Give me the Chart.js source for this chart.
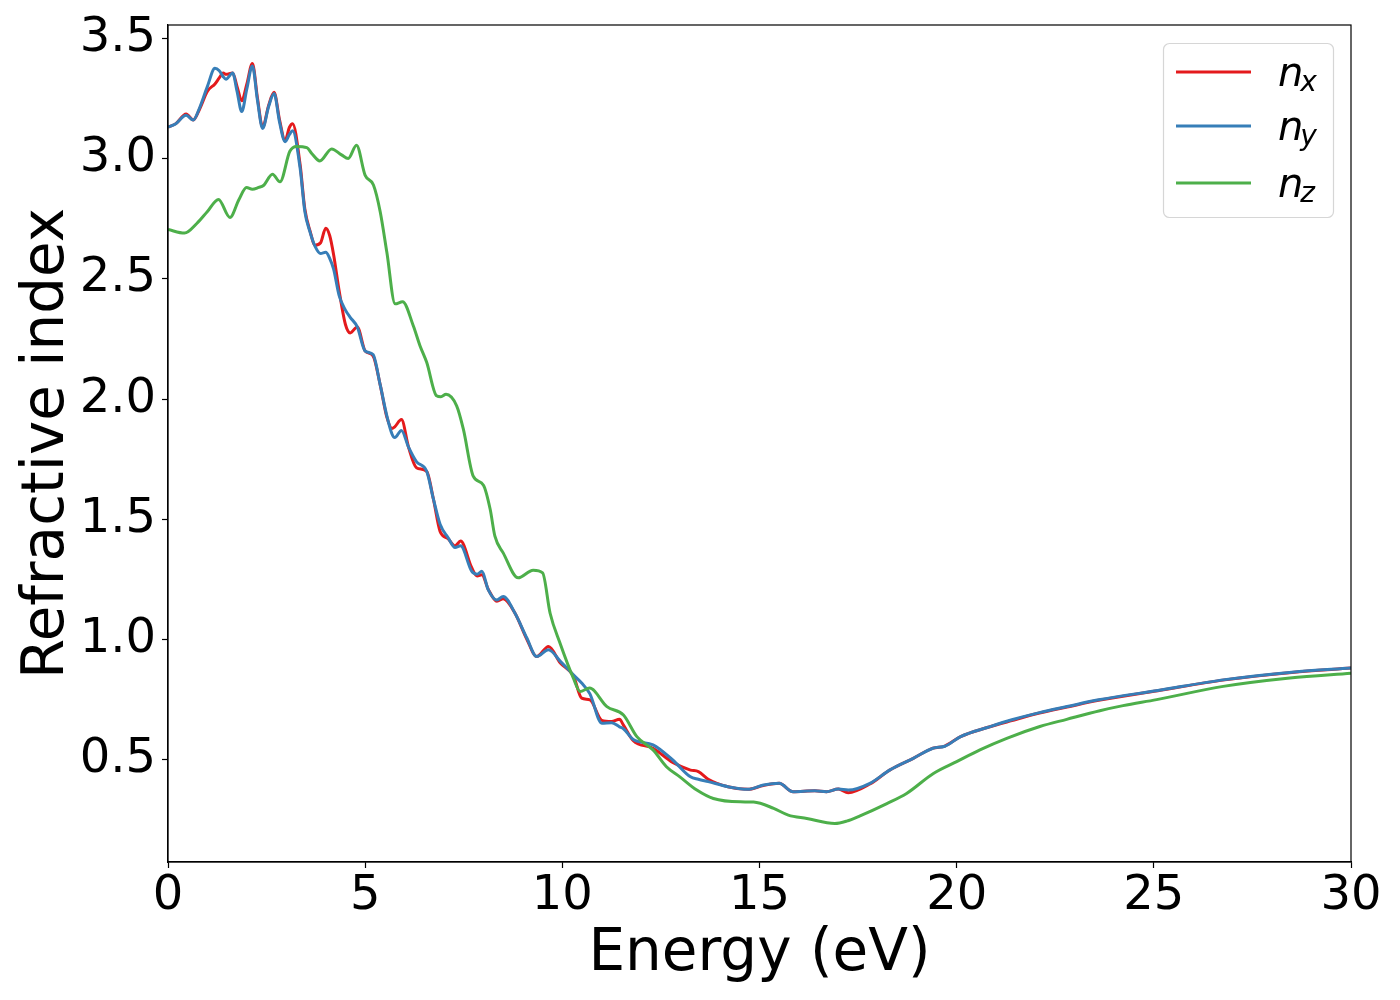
<!DOCTYPE html>
<html>
<head>
<meta charset="utf-8">
<title>Refractive index</title>
<script src="https://cdn.jsdelivr.net/npm/chart.js@4/dist/chart.umd.min.js"></script>
<style>
	html, body { margin: 0; padding: 0; background: #fff; }
	#wrap { width: 1400px; height: 1000px; }
</style>
</head>
<body>
<div id="wrap"><canvas id="myChart" width="1400" height="1000"></canvas></div>
<script>
'use strict';

// energies (eV) shared by n_x and n_y
var energyXY = [0, 0.2, 0.46, 0.64, 0.8, 1.0, 1.19, 1.3, 1.4, 1.47, 1.64, 1.75, 1.87, 2.0, 2.14, 2.27, 2.4, 2.55, 2.69, 2.83,
	2.97, 3.08, 3.16, 3.35, 3.47, 3.6, 3.73, 3.87, 4.0, 4.1, 4.2, 4.34, 4.5, 4.62, 4.8, 5.0, 5.2, 5.38, 5.55, 5.68,
	5.75, 5.92, 6.1, 6.3, 6.56, 6.73, 6.9, 7.1, 7.28, 7.42, 7.7, 7.84, 7.96, 8.12, 8.34, 8.5, 8.8, 9.1, 9.35, 9.65,
	9.95, 10.28, 10.49, 10.7, 11.0, 11.25, 11.45, 11.55, 11.8, 12.3, 12.8, 13.25, 13.45, 13.7, 14.2, 14.7, 15.1, 15.5, 15.85, 16.4,
	16.7, 17.0, 17.25, 17.8, 18.3, 18.9, 19.4, 19.7, 20.1, 20.8, 21.4, 22.1, 22.8, 23.6, 25.1, 26.8, 28.5, 30];

var nx = [3.130, 3.145, 3.185, 3.160, 3.205, 3.280, 3.310, 3.335, 3.355, 3.350, 3.355, 3.300, 3.240, 3.310, 3.395, 3.250, 3.130, 3.220, 3.275, 3.160,
	3.075, 3.130, 3.145, 2.975, 2.790, 2.700, 2.640, 2.650, 2.710, 2.680, 2.600, 2.450, 2.310, 2.275, 2.300, 2.200, 2.180, 2.060, 1.925, 1.878,
	1.885, 1.915, 1.800, 1.715, 1.700, 1.585, 1.450, 1.420, 1.390, 1.410, 1.300, 1.265, 1.270, 1.210, 1.160, 1.170, 1.110, 1.002, 0.930, 0.972,
	0.903, 0.850, 0.757, 0.750, 0.665, 0.660, 0.669, 0.645, 0.580, 0.549, 0.490, 0.458, 0.452, 0.420, 0.389, 0.378, 0.394, 0.403, 0.368, 0.372,
	0.368, 0.379, 0.364, 0.400, 0.458, 0.507, 0.549, 0.558, 0.597, 0.636, 0.664, 0.695, 0.720, 0.748, 0.788, 0.833, 0.864, 0.882];

var ny = [3.130, 3.145, 3.180, 3.160, 3.210, 3.300, 3.375, 3.365, 3.340, 3.330, 3.355, 3.280, 3.195, 3.290, 3.385, 3.240, 3.125, 3.215, 3.270, 3.150,
	3.070, 3.100, 3.115, 2.960, 2.780, 2.695, 2.635, 2.605, 2.610, 2.585, 2.540, 2.430, 2.370, 2.340, 2.300, 2.200, 2.185, 2.060, 1.930, 1.855,
	1.840, 1.870, 1.800, 1.740, 1.700, 1.585, 1.480, 1.425, 1.383, 1.390, 1.285, 1.272, 1.285, 1.208, 1.165, 1.180, 1.110, 1.007, 0.930, 0.958,
	0.910, 0.854, 0.820, 0.775, 0.653, 0.655, 0.638, 0.630, 0.585, 0.563, 0.500, 0.430, 0.420, 0.410, 0.389, 0.378, 0.396, 0.403, 0.368, 0.372,
	0.368, 0.379, 0.375, 0.403, 0.458, 0.507, 0.549, 0.557, 0.597, 0.636, 0.667, 0.697, 0.722, 0.750, 0.789, 0.834, 0.865, 0.882];

// energies (eV) for n_z
var energyZ = [0, 0.42, 0.73, 1.0, 1.28, 1.57, 1.8, 1.99, 2.14, 2.3, 2.42, 2.65, 2.84, 3.09, 3.26, 3.52, 3.65, 3.85, 4.15, 4.4,
	4.57, 4.78, 5.0, 5.21, 5.38, 5.55, 5.76, 5.95, 6.22, 6.39, 6.56, 6.81, 6.92, 7.05, 7.32, 7.49, 7.74, 8.0, 8.17, 8.29,
	8.5, 8.88, 9.26, 9.5, 9.69, 9.94, 10.28, 10.45, 10.69, 11.13, 11.55, 11.89, 12.3, 12.64, 12.98, 13.41, 13.83, 14.51, 14.85, 15.36,
	15.73, 16.2, 16.91, 17.21, 17.55, 18.23, 18.73, 19.41, 20.0, 20.59, 21.27, 22.11, 22.79, 23.63, 24.22, 25.07, 26.76, 28.45, 30];

var nz = [2.705, 2.690, 2.730, 2.780, 2.830, 2.755, 2.830, 2.880, 2.872, 2.880, 2.888, 2.935, 2.903, 3.030, 3.050, 3.045, 3.020, 2.990, 3.040, 3.015,
	3.000, 3.055, 2.930, 2.890, 2.780, 2.610, 2.396, 2.405, 2.305, 2.222, 2.153, 2.014, 2.010, 2.020, 1.972, 1.875, 1.680, 1.642, 1.542, 1.430,
	1.361, 1.257, 1.289, 1.278, 1.110, 0.986, 0.840, 0.785, 0.799, 0.722, 0.687, 0.597, 0.542, 0.472, 0.430, 0.375, 0.340, 0.326, 0.325, 0.299,
	0.271, 0.257, 0.236, 0.246, 0.268, 0.319, 0.361, 0.444, 0.493, 0.542, 0.590, 0.639, 0.669, 0.705, 0.726, 0.751, 0.806, 0.841, 0.861];

var xTicks = [0, 5, 10, 15, 20, 25, 30];
var yTicks = [0.5, 1.0, 1.5, 2.0, 2.5, 3.0, 3.5];
var seriesNames = ['n_x', 'n_y', 'n_z'];

var FONT = "'DejaVu Sans', sans-serif";

function points(xs, ys) {
	return xs.map(function (x, i) { return { x: x, y: ys[i] }; });
}

// full box around the axes, like matplotlib spines
var frame = {
	id: 'frame',
	afterDatasetsDraw: function (chart) {
		var a = chart.chartArea, ctx = chart.ctx;
		ctx.save();
		ctx.strokeStyle = '#000';
		ctx.lineWidth = 1.2;
		ctx.strokeRect(a.left, a.top, a.right - a.left, a.bottom - a.top);
		ctx.restore();
	}
};

// legend with italic n and a subscript
var mathLegend = {
	id: 'mathLegend',
	afterDraw: function (chart) {
		var ctx = chart.ctx;
		var rows = [72, 126, 183];
		ctx.save();
		ctx.beginPath();
		ctx.roundRect(1163.5, 43.5, 170, 174, 6);
		ctx.fillStyle = 'rgba(255,255,255,0.8)';
		ctx.fill();
		ctx.strokeStyle = '#d6d6d6';
		ctx.lineWidth = 1.2;
		ctx.stroke();
		chart.data.datasets.forEach(function (ds, i) {
			var y = rows[i];
			ctx.beginPath();
			ctx.moveTo(1176, y);
			ctx.lineTo(1251, y);
			ctx.strokeStyle = ds.borderColor;
			ctx.lineWidth = 3;
			ctx.stroke();
			var parts = ds.label.split('_');
			ctx.fillStyle = '#000';
			ctx.textBaseline = 'alphabetic';
			ctx.textAlign = 'left';
			ctx.font = 'italic 40px ' + FONT;
			ctx.fillText(parts[0], 1278, y + 14);
			var w = ctx.measureText(parts[0]).width;
			ctx.font = 'italic 28px ' + FONT;
			ctx.fillText(parts[1], 1278 + w - 3, y + 18.5);
		});
		ctx.restore();
	}
};

var ctx = document.getElementById('myChart').getContext('2d');
var myChart = new Chart(ctx, {
	type: 'line',
	data: {
		datasets: [{
			label: seriesNames[0],
			data: points(energyXY, nx),
			borderColor: '#e41a1c',
			order: 3
		}, {
			label: seriesNames[1],
			data: points(energyXY, ny),
			borderColor: '#377eb8',
			order: 2
		}, {
			label: seriesNames[2],
			data: points(energyZ, nz),
			borderColor: '#4daf4a',
			order: 1
		}]
	},
	options: {
		responsive: false,
		animation: false,
		events: [],
		layout: { padding: { left: 0, right: 49, top: 25, bottom: 0 } },
		elements: {
			point: { radius: 0 },
			line: { borderWidth: 3, fill: false, cubicInterpolationMode: 'monotone' }
		},
		plugins: {
			legend: { display: false },
			tooltip: { enabled: false }
		},
		scales: {
			x: {
				type: 'linear',
				min: 0,
				max: 30,
				afterFit: function (scale) {
					scale.height = 138;
					scale.paddingLeft = 0;
					scale.paddingRight = 0;
				},
				afterBuildTicks: function (scale) {
					scale.ticks = xTicks.map(function (v) { return { value: v }; });
				},
				grid: { drawOnChartArea: false, drawTicks: true, tickLength: 6, tickWidth: 1.2, color: '#000' },
				border: { display: true, color: '#000', width: 1.2 },
				ticks: {
					color: '#000',
					font: { family: FONT, size: 48 },
					padding: 0,
					maxRotation: 0,
					callback: function (v) { return String(v); }
				},
				title: {
					display: true,
					text: 'Energy (eV)',
					color: '#000',
					font: { family: FONT, size: 58 },
					padding: { top: 0, bottom: 10 }
				}
			},
			y: {
				type: 'linear',
				min: 0.076,
				max: 3.555,
				afterFit: function (scale) {
					scale.width = 168;
					scale.paddingTop = 0;
					scale.paddingBottom = 0;
				},
				afterBuildTicks: function (scale) {
					scale.ticks = yTicks.map(function (v) { return { value: v }; });
				},
				grid: { drawOnChartArea: false, drawTicks: true, tickLength: 6, tickWidth: 1.2, color: '#000' },
				border: { display: true, color: '#000', width: 1.2 },
				ticks: {
					color: '#000',
					font: { family: FONT, size: 48 },
					padding: 6,
					callback: function (v) { return v.toFixed(1); }
				},
				title: {
					display: true,
					text: 'Refractive index',
					color: '#000',
					font: { family: FONT, size: 58 },
					padding: { top: 13, bottom: 0 }
				}
			}
		}
	},
	plugins: [frame, mathLegend]
});
</script>
</body>
</html>
